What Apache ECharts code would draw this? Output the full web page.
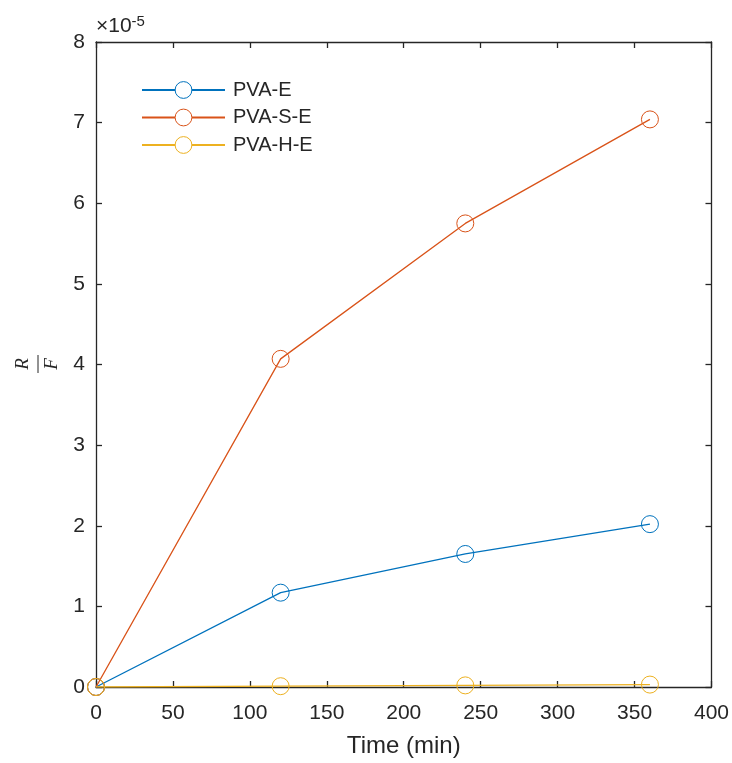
<!DOCTYPE html>
<html>
<head>
<meta charset="utf-8">
<script src="https://cdn.jsdelivr.net/npm/echarts@6/dist/echarts.min.js"></script>
<style>html,body{margin:0;padding:0;background:#fff;}#c{width:732px;height:763px;}</style>
</head>
<body>
<div id="c"></div>
<script>
// Time (min)
var times = [0, 120, 240, 360];
// Values in units of 1e-5
var pvaE = [0, 1.17, 1.65, 2.02];
var pvaSE = [0, 4.07, 5.75, 7.04];
var pvaHE = [0, 0.01, 0.02, 0.03];
var seriesNames = ['PVA-E', 'PVA-S-E', 'PVA-H-E'];
var xTicks = [0, 50, 100, 150, 200, 250, 300, 350, 400];
var yTicks = [0, 1, 2, 3, 4, 5, 6, 7, 8];

var colors = ['#0072BD', '#D95319', '#EDB120'];
var axisColor = '#262626';
var font = 'Liberation Sans, Arial, Helvetica, sans-serif';

function pairs(xs, ys) { return xs.map(function (x, i) { return [x, ys[i]]; }); }

var chart = echarts.init(document.getElementById('c'), null, { renderer: 'canvas' });

function mkSeries(name, vals, color) {
  return {
    name: name, type: 'line', data: pairs(times, vals),
    xAxisIndex: 0, yAxisIndex: 0,
    symbol: 'circle', symbolSize: 17, showSymbol: true,
    itemStyle: { color: 'rgba(255,255,255,0)', borderColor: color, borderWidth: 1 },
    lineStyle: { color: color, width: 1.3 },
    emphasis: { disabled: true },
    animation: false
  };
}

function axisLine() { return { show: true, onZero: false, lineStyle: { color: axisColor, width: 1.3 } }; }
function axisTick() { return { show: true, inside: true, length: 6, lineStyle: { color: axisColor, width: 1.3 } }; }

chart.setOption({
  animation: false,
  backgroundColor: '#fff',
  textStyle: { fontFamily: font },
  grid: { left: 96, right: 19, top: 42, bottom: 72, containLabel: false },
  legend: {
    orient: 'vertical', left: 136, top: 75,
    itemWidth: 83, itemHeight: 21, itemGap: 7.5,
    padding: 5,
    data: seriesNames,
    itemStyle: { color: '#ffffff', borderWidth: 1 },
    textStyle: { fontSize: 20, color: axisColor, fontFamily: font, padding: [0, 0, 0, 3] }
  },
  xAxis: [{
    type: 'value', min: xTicks[0], max: xTicks[xTicks.length - 1], interval: 50,
    position: 'bottom',
    axisLine: axisLine(), axisTick: axisTick(),
    axisLabel: { fontSize: 21, color: axisColor, margin: 16, fontFamily: font },
    splitLine: { show: false },
    name: 'Time (min)', nameLocation: 'middle', nameGap: 47,
    nameTextStyle: { fontSize: 24, color: axisColor, fontFamily: font }
  }, {
    type: 'value', min: xTicks[0], max: xTicks[xTicks.length - 1], interval: 50,
    position: 'top',
    axisLine: axisLine(), axisTick: axisTick(),
    axisLabel: { show: false },
    splitLine: { show: false }
  }],
  yAxis: [{
    type: 'value', min: yTicks[0], max: yTicks[yTicks.length - 1], interval: 1,
    position: 'left',
    axisLine: axisLine(), axisTick: axisTick(),
    axisLabel: { fontSize: 21, color: axisColor, margin: 11, fontFamily: font },
    splitLine: { show: false }
  }, {
    type: 'value', min: yTicks[0], max: yTicks[yTicks.length - 1], interval: 1,
    position: 'right',
    axisLine: axisLine(), axisTick: axisTick(),
    axisLabel: { show: false },
    splitLine: { show: false }
  }],
  series: [
    mkSeries(seriesNames[0], pvaE, colors[0]),
    mkSeries(seriesNames[1], pvaSE, colors[1]),
    mkSeries(seriesNames[2], pvaHE, colors[2])
  ],
  graphic: [
    {
      type: 'text', left: 96, top: 14,
      style: {
        text: '×10{s|-5}', fill: axisColor, font: '21px ' + font,
        rich: { s: { fontSize: 15, verticalAlign: 'top', padding: [0, 0, 9, 0], fill: axisColor, fontFamily: font } }
      }
    },
    {
      type: 'group', x: 38, y: 364, rotation: Math.PI / 2,
      children: [
        { type: 'text', x: 0, y: -6, style: { text: 'R', fill: axisColor, font: 'italic 19px "Liberation Serif", "DejaVu Serif", serif', align: 'center', verticalAlign: 'bottom' } },
        { type: 'line', shape: { x1: -9, y1: 0, x2: 9, y2: 0 }, style: { stroke: axisColor, lineWidth: 1 } },
        { type: 'text', x: 0, y: 4, style: { text: 'F', fill: axisColor, font: 'italic 19px "Liberation Serif", "DejaVu Serif", serif', align: 'center', verticalAlign: 'top' } }
      ]
    }
  ]
});
</script>
</body>
</html>
